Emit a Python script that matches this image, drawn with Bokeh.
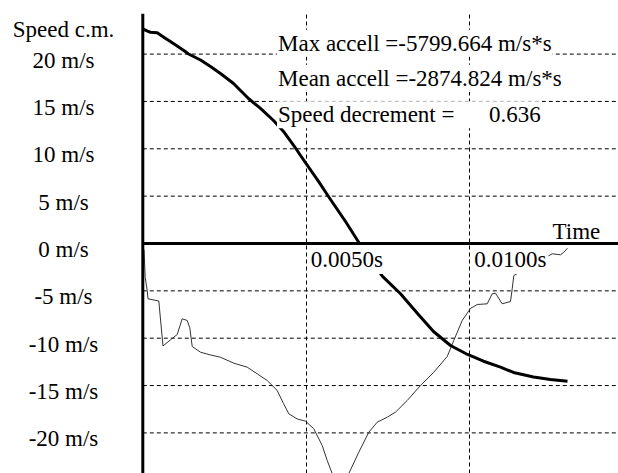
from bokeh.plotting import figure
from bokeh.models import Range1d, Span, Grid, FixedTicker
from bokeh.core.properties import value
from bokeh.embed import file_html
from bokeh.resources import INLINE

# ---------------- data ----------------
# centre-of-mass speed (m/s) versus time (s)
speed_t = [0.000000, 0.000144, 0.000235, 0.000440, 0.000642, 0.000948, 0.001254,
           0.001398, 0.001765, 0.002070, 0.002376, 0.002774, 0.003232, 0.003599,
           0.003997, 0.004303, 0.004639, 0.004823, 0.005373, 0.005740, 0.006199,
           0.006627, 0.006963, 0.007330, 0.007881, 0.008401, 0.008890, 0.009410,
           0.009930, 0.010419, 0.010939, 0.011336, 0.011948, 0.012468, 0.012988]
speed_v = [22.67, 22.42, 22.31, 22.25, 21.78, 21.09, 20.38,
           20.01, 19.38, 18.69, 17.95, 16.90, 15.31, 14.26,
           12.99, 11.83, 10.24, 9.29, 6.55, 4.65, 2.32,
           0.00, -1.69, -3.48, -5.31, -7.39, -9.29, -10.77,
           -11.72, -12.43, -13.06, -13.62, -14.10, -14.36, -14.54]

# acceleration trace (drawn on the same axis scale)
accel_t = [0.000037, 0.000073, 0.000135, 0.000159, 0.000489, 0.000618, 0.000847,
           0.001052, 0.001205, 0.001358, 0.001437, 0.001511, 0.001765, 0.002070,
           0.002376, 0.002783, 0.003193, 0.003498, 0.003804, 0.004110, 0.004303,
           0.004465, 0.004722, 0.004976, 0.005229, 0.005486, 0.005639, 0.005792,
           0.006015, 0.006300, 0.006606, 0.006911, 0.007168, 0.007474, 0.007728,
           0.008086, 0.008492, 0.008899, 0.009309, 0.009511, 0.009768, 0.010021,
           0.010226, 0.010532, 0.010685, 0.010786, 0.010991, 0.011245, 0.011297,
           0.011346, 0.011856, 0.012315, 0.012520, 0.012774, 0.012875, 0.012988]
accel_v = [-0.63, -3.56, -4.96, -5.84, -6.07, -10.82, -10.17,
           -9.61, -7.95, -8.13, -8.90, -10.88, -11.48, -11.77,
           -12.01, -12.64, -13.06, -13.76, -14.47, -15.52, -16.90,
           -17.98, -18.53, -18.76, -19.57, -21.33, -22.91, -24.29,
           -26.29, -24.29, -22.04, -19.93, -18.87, -18.34, -17.81,
           -16.58, -14.99, -13.59, -11.93, -10.24, -8.13, -6.86,
           -6.44, -6.37, -5.31, -5.25, -6.37, -6.12, -4.78,
           -3.38, -2.43, -1.48, -1.09, -1.19, -0.92, -0.50]

y_ticks = [20, 15, 10, 5, 0, -5, -10, -15, -20]
y_tick_labels = ["20 m/s", "15 m/s", "10 m/s", "5 m/s", "0 m/s",
                 "-5 m/s", "-10 m/s", "-15 m/s", "-20 m/s"]
x_ticks = [0.005, 0.010]
x_tick_labels = ["0.0050s", "0.0100s"]
y_title = "Speed c.m."
x_title = "Time"
stats_labels = ["Max accell =-5799.664 m/s*s",
                "Mean accell =-2874.824 m/s*s",
                "Speed decrement =" + "\u00a0" * 6 + "0.636"]

# ---------------- layout ----------------
W, H = 618, 473
TOP = 13              # frame starts where the y axis line starts
PX_PER_S = 32700.0    # horizontal pixels per second
PX_PER_V = 9.47       # vertical pixels per m/s
AX_X = 142.3          # pixel column of t = 0
AX_Y = 243.0          # pixel row of v = 0
TXT_SHIFT = 9.0       # renderer draws text this much lower than the anchor


def tx(px):
    """pixel column -> time"""
    return (px - AX_X) / PX_PER_S


def vy(py):
    """pixel row -> speed"""
    return (AX_Y - py) / PX_PER_V


def vy_txt(py):
    """baseline pixel row -> text anchor"""
    return vy(py - TXT_SHIFT)


x_end = tx(W)
p = figure(width=W, height=H, output_backend="svg", toolbar_location=None,
           x_range=Range1d(tx(0), x_end),
           y_range=Range1d(vy(H), vy(TOP)),
           x_axis_location=None, y_axis_location=None,
           min_border_left=0, min_border_right=0, min_border_top=TOP,
           min_border_bottom=0)
p.outline_line_color = None
p.background_fill_color = "white"
p.border_fill_color = "white"
for g in p.grid:
    g.visible = False

FONT = value("'Liberation Serif', 'Times New Roman', Times, serif")
FS = "23px"

# vertical grid lines
vgrid = Grid(dimension=0, ticker=FixedTicker(ticks=x_ticks),
             grid_line_color="black", grid_line_width=1, grid_line_dash="4 3")
p.add_layout(vgrid)

# horizontal grid lines (start at the y axis)
hy = [t for t in y_ticks if t != 0]
p.segment(x0=[0] * len(hy), y0=hy, x1=[x_end] * len(hy), y1=hy,
          line_color="black", line_width=1, line_dash="4 3")

# curves
p.line(accel_t, accel_v, line_color="#333333", line_width=1)
p.line(speed_t, speed_v, line_color="black", line_width=3, line_join="round")

# axes lines
p.segment(x0=[0], y0=[0], x1=[x_end], y1=[0], line_color="black", line_width=3)
p.add_layout(Span(location=0, dimension="height", line_color="black", line_width=3))

# y tick labels (centered column left of the axis)
lab_x = tx(63)
lab_drop = (15 - TXT_SHIFT) / PX_PER_V
p.text(x=[lab_x] * len(y_ticks), y=[t - lab_drop for t in y_ticks], text=y_tick_labels,
       text_font=FONT, text_font_size=FS, text_align="center",
       text_baseline="alphabetic", text_color="black")
p.text(x=[lab_x], y=[vy_txt(38.3)], text=[y_title],
       text_font=FONT, text_font_size=FS, text_align="center",
       text_baseline="alphabetic", text_color="black")

# x tick labels
p.text(x=[t + 2.5 / PX_PER_S for t in x_ticks], y=[vy_txt(268)] * len(x_ticks),
       text=x_tick_labels,
       text_font=FONT, text_font_size=FS, text_align="left",
       text_baseline="alphabetic", text_color="black",
       background_fill_color="white", padding=2)
p.text(x=[tx(552)], y=[vy_txt(240)], text=[x_title],
       text_font=FONT, text_font_size=FS, text_align="left",
       text_baseline="alphabetic", text_color="black")

# statistics text
p.text(x=[tx(276.5)] * 3, y=[vy_txt(51.7), vy_txt(86.7), vy_txt(123.3)],
       text=stats_labels, text_font=FONT, text_font_size=FS, text_align="left",
       text_baseline="alphabetic", text_color="black",
       background_fill_color="white", padding=1)

open("out.html", "w").write(file_html(p, INLINE))
